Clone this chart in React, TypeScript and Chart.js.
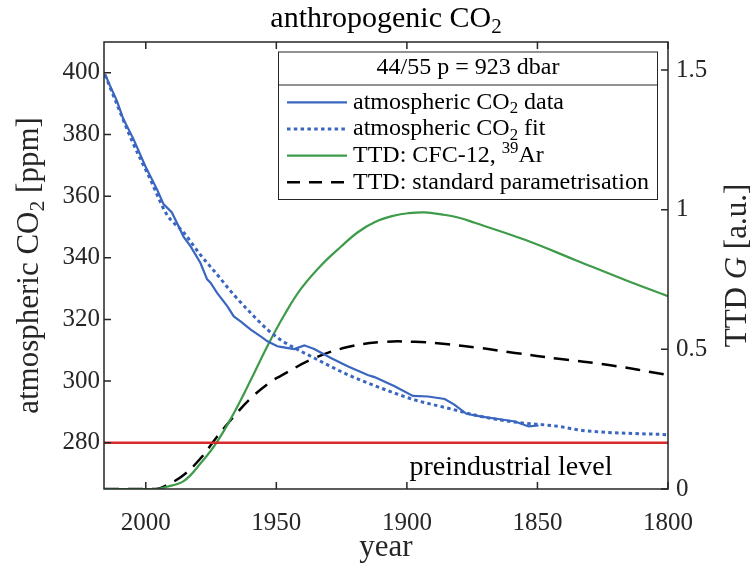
import React, { useEffect, useRef } from 'react';
import { Chart, registerables } from 'chart.js';

Chart.register(...registerables);

// ---------- data ----------
const CO2_DATA_YEARS = [2015.6, 2013.7, 2011.1, 2008.6, 2004.7, 2000.2, 1995.7, 1993.2, 1990, 1985.5, 1982.9, 1979.1, 1976.5, 1975.2, 1972.7, 1968.8, 1966.3, 1963.7, 1959.8, 1956, 1953.4, 1949.6, 1948.3, 1943.2, 1939.3, 1935.5, 1929.1, 1922.7, 1915, 1912.4, 1904.7, 1897.7, 1891.9, 1885.5, 1881.7, 1877.2, 1871.4, 1865, 1858.6, 1853.4, 1849.6];
const CO2_DATA_PPM = [399.6, 395.8, 391, 385, 378.5, 369.8, 362.2, 357.4, 354.7, 346.8, 343.8, 338.4, 333, 331.9, 328.6, 324.3, 321, 319.4, 316.7, 314.5, 312.9, 311.3, 311.1, 310.4, 311.6, 310.4, 307.5, 304.8, 302, 301.3, 298.3, 295.2, 295, 294.2, 292.3, 289.4, 288.5, 287.7, 286.9, 285.3, 285.6];

const CO2_FIT_YEARS = [2015.6, 2011.1, 2005, 1998.3, 1992, 1985.5, 1979.1, 1972.7, 1966.3, 1959.8, 1953.4, 1948, 1935.5, 1922.7, 1909.8, 1897, 1884.2, 1871.4, 1858.6, 1841.9, 1832.9, 1800];
const CO2_FIT_PPM = [399.3, 389.9, 377.4, 365.5, 354.1, 348.2, 341, 334.6, 328, 322.1, 316.7, 313.2, 307.5, 302.1, 297.7, 293.9, 291.2, 288.5, 286.7, 285.3, 284, 282.6];

const TTD_CFC_YEARS = [2016, 1996, 1991.9, 1985.5, 1979, 1972.7, 1966.3, 1959.8, 1953.4, 1947, 1940.6, 1932.9, 1925.2, 1918.8, 1912.4, 1904.7, 1899.6, 1893.2, 1886.8, 1880.4, 1874, 1854.8, 1835.6, 1816.4, 1800];
const TTD_CFC_G = [0, 0, 0.008, 0.028, 0.092, 0.169, 0.271, 0.39, 0.512, 0.622, 0.716, 0.8, 0.868, 0.919, 0.955, 0.979, 0.987, 0.99, 0.983, 0.972, 0.953, 0.892, 0.82, 0.748, 0.69];

const TTD_STD_YEARS = [2016, 1996, 1991.9, 1985.5, 1979, 1972.7, 1966.3, 1959.8, 1952, 1948.3, 1935.5, 1922.7, 1909.8, 1897, 1884.2, 1871.4, 1858.6, 1841.9, 1822.7, 1800];
const TTD_STD_G = [0, 0, 0.014, 0.05, 0.11, 0.187, 0.259, 0.325, 0.385, 0.405, 0.468, 0.508, 0.526, 0.527, 0.518, 0.504, 0.487, 0.466, 0.444, 0.408];

const PREINDUSTRIAL_PPM = 280;
const X_TICKS = [2000, 1950, 1900, 1850, 1800];
const LEFT_TICKS = [280, 300, 320, 340, 360, 380, 400];
const RIGHT_TICKS = [0, 0.5, 1, 1.5];
const X_MIN = 1800;
const X_MAX = 2016;
const LEFT_MIN = 265;
const LEFT_MAX = 410;
const RIGHT_MIN = 0;
const RIGHT_MAX = 1.6;

const TITLE = [{ t: 'anthropogenic CO' }, { t: '2', s: 'sub' }];
const X_TITLE = [{ t: 'year' }];
const LEFT_TITLE = [{ t: 'atmospheric CO' }, { t: '2', s: 'sub' }, { t: ' [ppm]' }];
const RIGHT_TITLE = [{ t: 'TTD ' }, { t: 'G', s: 'it' }, { t: ' [a.u.]' }];
const LEGEND_HEADER = [{ t: '44/55 p = 923 dbar' }];
const LEGEND_LABELS = [
  [{ t: 'atmospheric CO' }, { t: '2', s: 'sub' }, { t: ' data' }],
  [{ t: 'atmospheric CO' }, { t: '2', s: 'sub' }, { t: ' fit' }],
  [{ t: 'TTD: CFC-12, ' }, { t: '39', s: 'sup' }, { t: 'Ar' }],
  [{ t: 'TTD: standard parametrisation' }],
];
const ANNOTATION = [{ t: 'preindustrial level' }];

// ---------- styles ----------
const FONT = '"Liberation Serif", "Times New Roman", serif';
const AX = '#262626';
const BLUE = '#3a66c0';
const GREEN = '#3d9b49';
const RED = '#d52b2b';
const BLACK = '#000000';

type Seg = { t: string; s?: string };

function segFont(size: number, s?: string) {
  const sz = s === 'sub' || s === 'sup' ? size * 0.7 : size;
  return `${s === 'it' ? 'italic ' : ''}${sz}px ${FONT}`;
}
function measureRich(ctx: CanvasRenderingContext2D, segs: Seg[], size: number) {
  let w = 0;
  for (const g of segs) {
    ctx.font = segFont(size, g.s);
    w += ctx.measureText(g.t).width;
  }
  return w;
}
function drawRich(ctx: CanvasRenderingContext2D, segs: Seg[], x: number, y: number, size: number, align: string, color: string) {
  const w = measureRich(ctx, segs, size);
  let cx = align === 'center' ? x - w / 2 : x;
  ctx.textAlign = 'left';
  ctx.textBaseline = 'alphabetic';
  ctx.fillStyle = color;
  for (const g of segs) {
    ctx.font = segFont(size, g.s);
    const dy = g.s === 'sub' ? size * 0.2 : g.s === 'sup' ? -size * 0.36 : 0;
    ctx.fillText(g.t, cx, y + dy);
    cx += ctx.measureText(g.t).width;
  }
}

const pts = (xs: number[], ys: number[]) => xs.map((x, i) => ({ x, y: ys[i] }));

const overlay = {
  id: 'overlay',
  afterDraw(chart: any) {
    const ctx: CanvasRenderingContext2D = chart.ctx;
    const { left, right, top, bottom } = chart.chartArea;
    const xs = chart.scales.x;
    const yl = chart.scales.y;
    const yr = chart.scales.y2;
    ctx.save();
    // box
    ctx.strokeStyle = AX;
    ctx.lineWidth = 1.5;
    ctx.strokeRect(left, top, right - left, bottom - top);
    // inward ticks
    const TL = 7;
    ctx.beginPath();
    for (const v of X_TICKS) {
      const px = xs.getPixelForValue(v);
      ctx.moveTo(px, bottom); ctx.lineTo(px, bottom - TL);
      ctx.moveTo(px, top); ctx.lineTo(px, top + TL);
    }
    for (const v of LEFT_TICKS) {
      const py = yl.getPixelForValue(v);
      ctx.moveTo(left, py); ctx.lineTo(left + TL, py);
    }
    for (const v of RIGHT_TICKS) {
      const py = yr.getPixelForValue(v);
      ctx.moveTo(right, py); ctx.lineTo(right - TL, py);
    }
    ctx.stroke();

    // titles
    const mid = (left + right) / 2;
    drawRich(ctx, TITLE, mid, 27, 30, 'center', '#000');
    drawRich(ctx, X_TITLE, mid, 556, 31, 'center', AX);
    ctx.save();
    ctx.translate(38, (top + bottom) / 2);
    ctx.rotate(-Math.PI / 2);
    drawRich(ctx, LEFT_TITLE, 0, 0, 31, 'center', AX);
    ctx.restore();
    ctx.save();
    ctx.translate(746, (top + bottom) / 2);
    ctx.rotate(-Math.PI / 2);
    drawRich(ctx, RIGHT_TITLE, 0, 0, 31, 'center', AX);
    ctx.restore();

    // annotation
    drawRich(ctx, ANNOTATION, 511, 475, 28, 'center', '#000');

    // legend
    const lx0 = 278.5, lx1 = 657.5, ly0 = 52, ly1 = 199.5, lsep = 85;
    ctx.fillStyle = '#fff';
    ctx.fillRect(lx0, ly0, lx1 - lx0, ly1 - ly0);
    ctx.strokeStyle = AX;
    ctx.lineWidth = 1;
    ctx.strokeRect(lx0, ly0, lx1 - lx0, ly1 - ly0);
    ctx.beginPath();
    ctx.moveTo(lx0, lsep); ctx.lineTo(lx1, lsep);
    ctx.stroke();
    drawRich(ctx, LEGEND_HEADER, (lx0 + lx1) / 2, 73.5, 24, 'center', '#000');
    const rows = [102.3, 129, 155.7, 182.3];
    const styles = [
      { c: BLUE, w: 2.2, d: [] as number[] },
      { c: BLUE, w: 3, d: [3.5, 3.3] },
      { c: GREEN, w: 2.2, d: [] as number[] },
      { c: BLACK, w: 2.5, d: [13, 9] },
    ];
    rows.forEach((ry, i) => {
      const st = styles[i];
      ctx.save();
      ctx.strokeStyle = st.c;
      ctx.lineWidth = st.w;
      ctx.setLineDash(st.d);
      ctx.beginPath();
      ctx.moveTo(287, ry); ctx.lineTo(347, ry);
      ctx.stroke();
      ctx.restore();
      drawRich(ctx, LEGEND_LABELS[i], 353, ry + 6.3, 24, 'left', '#000');
    });
    ctx.restore();
  },
};

export default function App() {
  const ref = useRef<HTMLCanvasElement | null>(null);
  useEffect(() => {
    if (!ref.current) return;
    const tickFont = { family: FONT, size: 25 };
    const grid = { display: false, drawTicks: false };
    const chart = new Chart(ref.current, {
      type: 'line',
      data: {
        datasets: [
          {
            label: 'preindustrial level',
            data: pts([X_MAX, X_MIN], [PREINDUSTRIAL_PPM, PREINDUSTRIAL_PPM]),
            borderColor: RED, borderWidth: 2.5, pointRadius: 0, yAxisID: 'y',
          },
          {
            label: 'atmospheric CO2 fit',
            data: pts(CO2_FIT_YEARS, CO2_FIT_PPM),
            borderColor: BLUE, borderWidth: 3, borderDash: [3.5, 3.3], pointRadius: 0,
            cubicInterpolationMode: 'monotone', yAxisID: 'y',
          },
          {
            label: 'atmospheric CO2 data',
            data: pts(CO2_DATA_YEARS, CO2_DATA_PPM),
            borderColor: BLUE, borderWidth: 2.2, pointRadius: 0, tension: 0, yAxisID: 'y',
          },
          {
            label: 'TTD: CFC-12, 39Ar',
            data: pts(TTD_CFC_YEARS, TTD_CFC_G),
            borderColor: GREEN, borderWidth: 2.2, pointRadius: 0,
            tension: 0.4, yAxisID: 'y2',
          },
          {
            label: 'TTD: standard parametrisation',
            data: pts(TTD_STD_YEARS, TTD_STD_G),
            borderColor: BLACK, borderWidth: 2.5, borderDash: [15, 9], pointRadius: 0,
            tension: 0.4, yAxisID: 'y2',
          },
        ],
      },
      options: {
        responsive: false,
        animation: false,
        devicePixelRatio: 1,
        layout: { padding: { top: 42, left: 0, right: 0, bottom: 0 } },
        plugins: { legend: { display: false }, tooltip: { enabled: false }, title: { display: false } },
        scales: {
          x: {
            type: 'linear', reverse: true, min: X_MIN, max: X_MAX,
            grid, border: { display: false },
            afterBuildTicks: (s: any) => { s.ticks = X_TICKS.map((v) => ({ value: v })); },
            afterFit: (s: any) => { s.height = 81; },
            ticks: { font: tickFont, color: AX, padding: 19, maxRotation: 0, autoSkip: false, callback: (v: any) => String(v) },
          },
          y: {
            type: 'linear', position: 'left', min: LEFT_MIN, max: LEFT_MAX,
            grid, border: { display: false },
            afterBuildTicks: (s: any) => { s.ticks = LEFT_TICKS.map((v) => ({ value: v })); },
            afterFit: (s: any) => { s.width = 104; },
            ticks: { font: tickFont, color: AX, padding: 4, callback: (v: any) => String(v) },
          },
          y2: {
            type: 'linear', position: 'right', min: RIGHT_MIN, max: RIGHT_MAX,
            grid, border: { display: false },
            afterBuildTicks: (s: any) => { s.ticks = RIGHT_TICKS.map((v) => ({ value: v })); },
            afterFit: (s: any) => { s.width = 83; },
            ticks: { font: tickFont, color: AX, padding: 8, callback: (v: any) => String(v) },
          },
        },
      } as any,
      plugins: [overlay],
    });
    return () => chart.destroy();
  }, []);
  return (
    <div style={{ position: 'absolute', left: 0, top: 0, width: 751, height: 570, background: '#fff' }}>
      <canvas ref={ref} width={751} height={570} style={{ width: 751, height: 570, display: 'block' }} />
    </div>
  );
}
